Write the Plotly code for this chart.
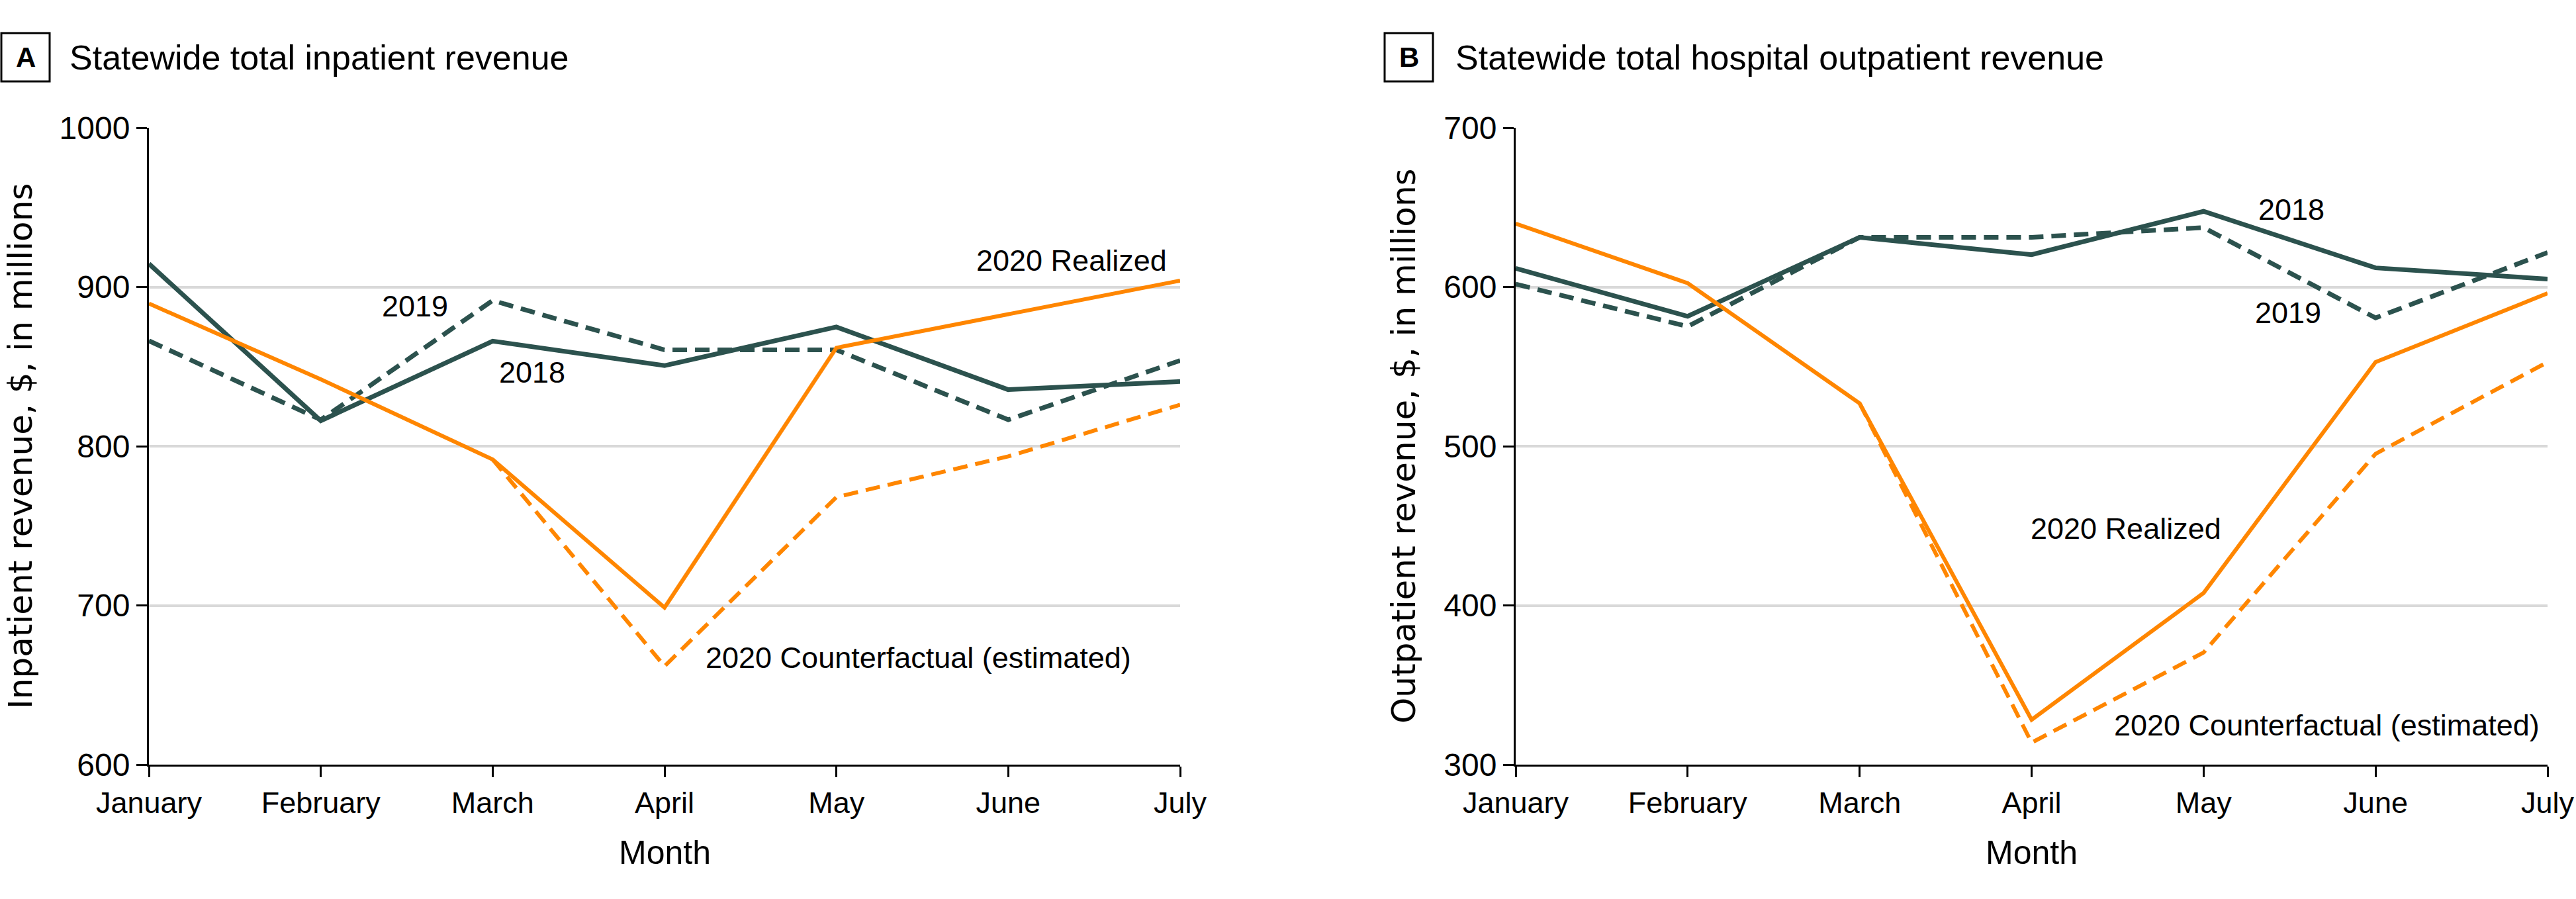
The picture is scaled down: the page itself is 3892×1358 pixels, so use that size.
import plotly.graph_objects as go

W, H = 3892, 1358          # target screenshot size

def px(x):
    return x / W

def py(y):
    return 1 - y / H

months = ["January", "February", "March", "April", "May", "June", "July"]

# Panel A: inpatient revenue ($ millions)
inp_2018 = [914.6, 816.0, 866.0, 850.6, 874.9, 835.5, 840.6]
inp_2019 = [866.2, 816.6, 891.5, 860.5, 860.5, 816.6, 853.8]
inp_2020_realized = [889.6, 842.0, 791.7, 698.6, 861.8, 882.9, 904.0]
inp_2020_counterfactual = [None, None, 791.7, 661.8, 768.0, 793.6, 826.0]

# Panel B: outpatient revenue ($ millions)
out_2018 = [611.7, 581.6, 631.2, 620.3, 647.5, 612.0, 605.0]
out_2019 = [601.8, 575.2, 631.2, 631.2, 637.3, 580.6, 621.6]
out_2020_realized = [639.8, 602.4, 526.9, 328.2, 407.8, 552.8, 596.0]
out_2020_counterfactual = [None, None, 526.9, 313.8, 370.4, 495.2, 552.8]

inp_ticks = [600, 700, 800, 900, 1000]
out_ticks = [300, 400, 500, 600, 700]

DARK = "#2C524E"
ORANGE = "#FF8600"
FONT = "Liberation Sans, Arial, sans-serif"
DASH = "22px,12px"

fig = go.Figure()

def add_panel(xa, ya, s2018, s2019, real, cf):
    fig.add_trace(go.Scatter(x=months, y=s2019, mode="lines", xaxis=xa, yaxis=ya,
                             line=dict(color=DARK, width=7, dash=DASH), showlegend=False))
    fig.add_trace(go.Scatter(x=months, y=s2018, mode="lines", xaxis=xa, yaxis=ya,
                             line=dict(color=DARK, width=7), showlegend=False))
    fig.add_trace(go.Scatter(x=months, y=cf, mode="lines", xaxis=xa, yaxis=ya,
                             line=dict(color=ORANGE, width=6, dash=DASH), showlegend=False))
    fig.add_trace(go.Scatter(x=months, y=real, mode="lines", xaxis=xa, yaxis=ya,
                             line=dict(color=ORANGE, width=6), showlegend=False))

add_panel("x", "y", inp_2018, inp_2019, inp_2020_realized, inp_2020_counterfactual)
add_panel("x2", "y2", out_2018, out_2019, out_2020_realized, out_2020_counterfactual)

ydom = [py(1155), py(193)]
xdomA = [px(225), px(1783)]
xdomB = [px(2290), px(3849)]

xaxis_common = dict(
    type="category", categoryorder="array", categoryarray=months, range=[0, 6],
    showgrid=False, showline=True, linecolor="black", linewidth=3,
    ticks="outside", ticklen=16, tickwidth=3, tickcolor="black",
    tickfont=dict(family=FONT, size=45, color="black"), zeroline=False,
    fixedrange=True, automargin=False, ticklabeloverflow="allow",
)
yaxis_common = dict(
    showgrid=True, gridcolor="#D9D9D9", gridwidth=4,
    showline=True, linecolor="black", linewidth=3,
    ticks="outside", ticklen=16, tickwidth=3, tickcolor="black",
    tickfont=dict(family=FONT, size=48, color="black"), zeroline=False,
    fixedrange=True, automargin=False,
)

fig.update_layout(
    template="none",
    width=W, height=H,
    margin=dict(l=0, r=0, t=0, b=0, pad=0),
    paper_bgcolor="white", plot_bgcolor="white",
    xaxis=dict(domain=xdomA, anchor="y", **xaxis_common),
    yaxis=dict(domain=ydom, anchor="x", range=[600, 1000], tickvals=inp_ticks, **yaxis_common),
    xaxis2=dict(domain=xdomB, anchor="y2", **xaxis_common),
    yaxis2=dict(domain=ydom, anchor="x2", range=[300, 700], tickvals=out_ticks, **yaxis_common),
)

ann = []
def label(text, x, y, xa, ya, xanchor="center"):
    ann.append(dict(text=text, x=x, y=y, xref=xa, yref=ya, showarrow=False,
                    xanchor=xanchor, yanchor="middle",
                    font=dict(family=FONT, size=45, color="black")))

# Panel A labels (x as category index)
label("2019", 1.55, 888, "x", "y")
label("2018", 2.23, 846.4, "x", "y")
label("2020 Realized", 5.93, 916.8, "x", "y", "right")
label("2020 Counterfactual (estimated)", 3.23, 667.2, "x", "y", "left")
# Panel B labels
label("2018", 4.51, 648.8, "x2", "y2")
label("2019", 4.49, 583.8, "x2", "y2")
label("2020 Realized", 3.55, 448.2, "x2", "y2")
label("2020 Counterfactual (estimated)", 3.47, 324.6, "x2", "y2", "left")

# Axis titles
ann.append(dict(text="Inpatient revenue, $, in millions", x=px(31), y=py(674), xref="paper", yref="paper",
                showarrow=False, textangle=-90, xanchor="center", yanchor="middle",
                font=dict(family="DejaVu Sans", size=50, color="black")))
ann.append(dict(text="Outpatient revenue, $, in millions", x=px(2121), y=py(674), xref="paper", yref="paper",
                showarrow=False, textangle=-90, xanchor="center", yanchor="middle",
                font=dict(family="DejaVu Sans", size=50, color="black")))
for xc in [(225 + 1783) / 2, (2290 + 3849) / 2]:
    ann.append(dict(text="Month", x=px(xc), y=py(1288), xref="paper", yref="paper",
                    showarrow=False, xanchor="center", yanchor="middle",
                    font=dict(family=FONT, size=50, color="black")))

# Panel titles with boxed letters
shapes = []
for letter, bx0, tx, title in [("A", 2, 103, "Statewide total inpatient revenue"),
                               ("B", 2092, 2197, "Statewide total hospital outpatient revenue")]:
    shapes.append(dict(type="rect", xref="paper", yref="paper",
                       x0=px(bx0), x1=px(bx0 + 73), y0=py(123), y1=py(50),
                       line=dict(color="black", width=3), fillcolor="white"))
    ann.append(dict(text="<b>" + letter + "</b>", x=px(bx0 + 36.5), y=py(87),
                    xref="paper", yref="paper", showarrow=False, xanchor="center", yanchor="middle",
                    font=dict(family=FONT, size=42, color="black")))
    ann.append(dict(text=title, x=px(tx), y=py(87), xref="paper", yref="paper",
                    showarrow=False, xanchor="left", yanchor="middle",
                    font=dict(family=FONT, size=52, color="black")))

fig.update_layout(annotations=ann, shapes=shapes)

# remove the default browser body margin so the figure fills the window exactly
fig.write_html(
    "out.html",
    config={"displayModeBar": False, "staticPlot": True},
    post_script="document.body.style.margin='0';document.body.style.padding='0';"
                "document.body.style.overflow='hidden';",
)
